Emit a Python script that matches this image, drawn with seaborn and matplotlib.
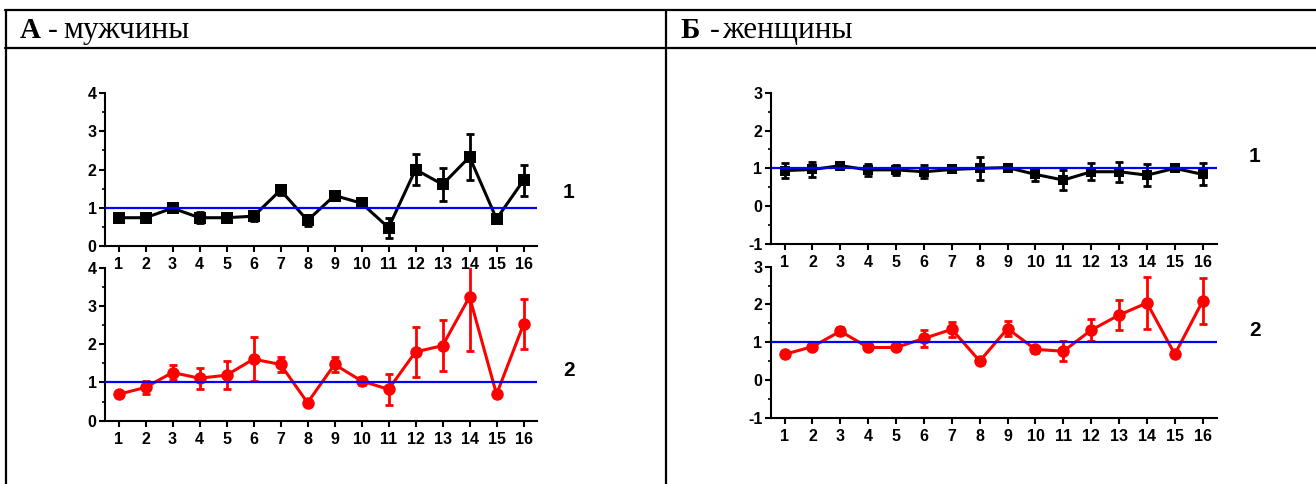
import matplotlib
matplotlib.use("Agg")
import matplotlib.pyplot as plt
from matplotlib.lines import Line2D
from matplotlib.ticker import MultipleLocator, FuncFormatter
import pandas as pd
import seaborn as sns

sns.set_style("ticks")
plt.rcParams['font.family'] = ['Liberation Sans', 'DejaVu Sans']
plt.rcParams['text.color'] = 'black'
plt.rcParams['xtick.color'] = 'black'
plt.rcParams['ytick.color'] = 'black'
plt.rcParams['axes.edgecolor'] = 'black'

# Data
points = list(range(1, 17))

men_1 = [0.74, 0.74, 0.99, 0.74, 0.74, 0.78, 1.46, 0.67, 1.32, 1.12, 0.48, 2.00, 1.61, 2.33, 0.71, 1.72]
men_1_err = [0.05, 0.05, 0.07, 0.15, 0.07, 0.13, 0.12, 0.15, 0.06, 0.10, 0.26, 0.40, 0.42, 0.60, 0.04, 0.41]
men_2 = [0.69, 0.87, 1.26, 1.11, 1.19, 1.61, 1.47, 0.47, 1.47, 1.04, 0.82, 1.80, 1.96, 3.24, 0.69, 2.52]
men_2_err = [0.04, 0.16, 0.19, 0.27, 0.37, 0.58, 0.19, 0.06, 0.19, 0.10, 0.40, 0.65, 0.66, 1.41, 0.04, 0.65]

women_1 = [0.94, 0.97, 1.07, 0.96, 0.96, 0.91, 0.97, 1.00, 1.02, 0.84, 0.69, 0.91, 0.91, 0.82, 1.00, 0.84]
women_1_err = [0.20, 0.21, 0.05, 0.15, 0.14, 0.17, 0.08, 0.30, 0.10, 0.17, 0.26, 0.22, 0.26, 0.30, 0.08, 0.29]
women_2 = [0.68, 0.88, 1.29, 0.86, 0.86, 1.10, 1.34, 0.50, 1.36, 0.81, 0.76, 1.32, 1.72, 2.04, 0.68, 2.09]
women_2_err = [0.04, 0.08, 0.10, 0.06, 0.06, 0.22, 0.19, 0.07, 0.19, 0.10, 0.26, 0.30, 0.41, 0.69, 0.04, 0.60]


def draw_panel(ax, values, errors, color, marker, msize, ylim, label, label_x, label_y):
    df = pd.DataFrame({'x': points, 'y': values})
    ax.errorbar(points, values, yerr=errors, fmt='none', ecolor=color,
                elinewidth=2, capsize=3, capthick=2, zorder=2)
    sns.lineplot(data=df, x='x', y='y', ax=ax, color=color, linewidth=2.2,
                 marker=marker, markersize=msize, markeredgewidth=0, zorder=3)
    ax.axhline(1, color='#0000ff', linewidth=1.6, zorder=4)
    ax.set_xlim(0.5, 16.5)
    ax.set_ylim(*ylim)
    ax.set_xticks(points)
    ax.set_xticklabels([str(p) for p in points])
    ax.yaxis.set_major_locator(MultipleLocator(1))
    ax.yaxis.set_minor_locator(MultipleLocator(0.5))
    ax.yaxis.set_major_formatter(FuncFormatter(lambda v, p: f"{v:.0f}"))
    ax.set_xlabel("")
    ax.set_ylabel("")
    for side in ['top', 'right']:
        ax.spines[side].set_visible(False)
    for side in ['left', 'bottom']:
        ax.spines[side].set_linewidth(1.5)
    ax.tick_params(axis='both', which='major', length=4, width=1.5, labelsize=11.5, pad=2)
    ax.tick_params(axis='x', which='major', pad=4)
    ax.tick_params(axis='y', which='minor', length=2.5, width=1.2)
    for t in ax.get_xticklabels() + ax.get_yticklabels():
        t.set_fontweight('bold')
    ax.text(label_x, label_y, label, transform=ax.transAxes, fontsize=15,
            fontweight='bold', ha='center', va='center')
    ax.patch.set_alpha(0)


fig = plt.figure(figsize=(13.16, 4.84), dpi=100)

ax_a1 = fig.add_axes([0.0798, 0.4917, 0.3283, 0.3161])
ax_a2 = fig.add_axes([0.0798, 0.1308, 0.3283, 0.3161])
ax_b1 = fig.add_axes([0.5856, 0.4959, 0.3389, 0.3126])
ax_b2 = fig.add_axes([0.5856, 0.1370, 0.3389, 0.3120])

draw_panel(ax_a1, men_1, men_1_err, 'black', 's', 8, (0, 4), '1', 1.072, 0.35)
draw_panel(ax_a2, men_2, men_2_err, '#ff0000', 'o', 9, (0, 4), '2', 1.075, 0.33)
draw_panel(ax_b1, women_1, women_1_err, 'black', 's', 7, (-1, 3), '1', 1.086, 0.575)
draw_panel(ax_b2, women_2, women_2_err, '#ff0000', 'o', 9, (-1, 3), '2', 1.086, 0.58)

# table frame around the panels
W, H = 1316, 484


def hline(y, x0, x1):
    fig.add_artist(Line2D([x0 / W, x1 / W], [1 - y / H, 1 - y / H], color='black', linewidth=1.6))


def vline(x, y0, y1):
    fig.add_artist(Line2D([x / W, x / W], [1 - y0 / H, 1 - y1 / H], color='black', linewidth=1.6))


hline(10, 5, W)
hline(48, 5, W)
vline(5.5, 10, H)
vline(665.5, 10, H)

serif = ['Liberation Serif', 'DejaVu Serif']
base = 1 - 38 / H
fig.text(20 / W, base, 'А', family=serif, fontsize=21, fontweight='bold', va='baseline')
fig.text(48 / W, base, '-', family=serif, fontsize=21, va='baseline')
fig.text(63 / W, base, 'мужчины', family=serif, fontsize=22.5, va='baseline')
fig.text(680 / W, base, 'Б', family=serif, fontsize=21, fontweight='bold', va='baseline')
fig.text(710 / W, base, '-', family=serif, fontsize=21, va='baseline')
fig.text(722 / W, base, 'женщины', family=serif, fontsize=22.5, va='baseline')

fig.savefig('out.png', dpi=100)
